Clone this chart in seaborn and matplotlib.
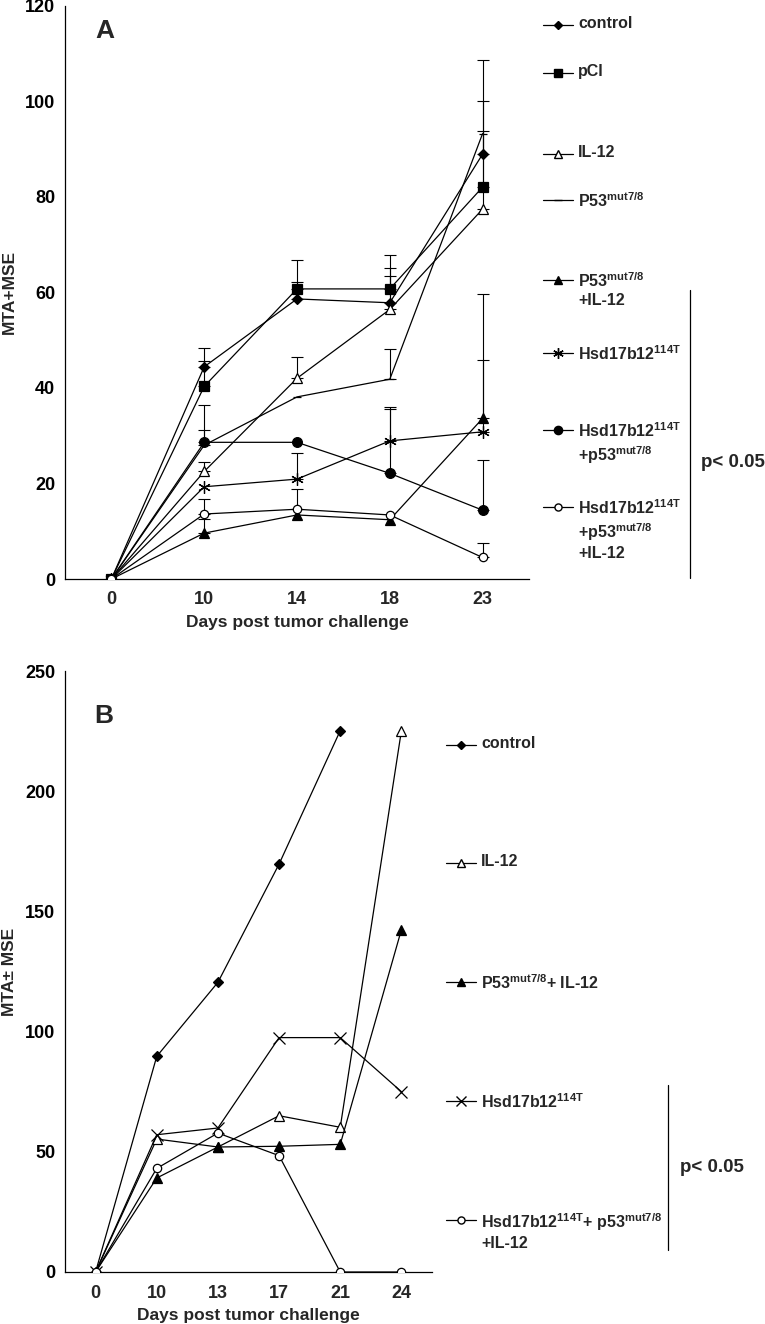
import numpy as np
import matplotlib
matplotlib.use("Agg")
import matplotlib.pyplot as plt
import seaborn as sns
from matplotlib.lines import Line2D

# ---------------------------------------------------------
# data, panel A
# ---------------------------------------------------------
days_a = ["0", "10", "14", "18", "23"]

control_a = [0, 44.4, 58.6, 57.8, 88.9]
control_a_err = [np.nan, 3.9, 3.6, 7.2, 19.8]
pcl_a = [0, 40.3, 60.7, 60.7, 82.0]
pcl_a_err = [np.nan, 5.3, 6.0, 7.1, 18.0]
il12_a = [0, 22.5, 42.0, 56.4, 77.4]
il12_a_err = [np.nan, 2.0, 4.5, 7.0, 16.3]
p53_a = [0, 28.0, 38.1, 41.8, 93.2]
p53_a_err = [np.nan, 3.2, np.nan, 6.3, np.nan]
p53_il12_a = [0, 9.6, 13.4, 12.4, 33.6]
p53_il12_a_err = [np.nan, 2.9, np.nan, np.nan, 26.1]
hsd_a = [0, 19.3, 20.9, 28.9, 30.8]
hsd_a_err = [np.nan, np.nan, 5.5, 7.1, 15.0]
hsd_p53_a = [0, 28.6, 28.6, 22.1, 14.4]
hsd_p53_a_err = [np.nan, 7.8, np.nan, 13.5, 10.6]
hsd_p53_il12_a = [0, 13.6, 14.6, 13.4, 4.5]
hsd_p53_il12_a_err = [np.nan, 3.1, 4.2, np.nan, 3.0]

labels_a = [
    "control",
    "pCl",
    "IL-12",
    "P53$^{mut7/8}$",
    "P53$^{mut7/8}$\n+IL-12",
    "Hsd17b12$^{114T}$",
    "Hsd17b12$^{114T}$\n+p53$^{mut7/8}$",
    "Hsd17b12$^{114T}$\n+p53$^{mut7/8}$\n+IL-12",
]

# ---------------------------------------------------------
# data, panel B
# ---------------------------------------------------------
days_b = ["0", "10", "13", "17", "21", "24"]

control_b = [0, 89.7, 120.5, 169.7, 225.2, np.nan]
il12_b = [0, 55.3, 52.0, 65.0, 60.2, 225.2]
p53_il12_b = [0, 39.1, 52.0, 52.3, 53.1, 142.4]
hsd_b = [0, 57.1, 59.9, 97.5, 97.5, 75.0]
hsd_p53_il12_b = [0, 43.1, 57.8, 48.4, 0, 0]

labels_b = [
    "control",
    "IL-12",
    "P53$^{mut7/8}$+ IL-12",
    "Hsd17b12$^{114T}$",
    "Hsd17b12$^{114T}$+ p53$^{mut7/8}$\n+IL-12",
]

# ---------------------------------------------------------
# style
# ---------------------------------------------------------
sns.set_style("white")
plt.rcParams["font.family"] = ["Liberation Sans", "DejaVu Sans"]
plt.rcParams["font.weight"] = "bold"
plt.rcParams["mathtext.fontset"] = "custom"
plt.rcParams["mathtext.rm"] = "Liberation Sans:bold"
plt.rcParams["mathtext.bf"] = "Liberation Sans:bold"
plt.rcParams["mathtext.default"] = "bf"

W, H = 765, 1324


def fx(px):
    return px / W


def fy(py):
    return 1 - py / H


# marker styles: (marker, size, face)
asterisk = (6, 2, 0)
sty_a = [
    ("D", 5, "black"),
    ("s", 6.5, "black"),
    ("^", 7, "white"),
    ("_", 6, "black"),
    ("^", 7, "black"),
    (asterisk, 9, "black"),
    ("o", 7, "black"),
    ("o", 6, "white"),
]
sty_b = [
    ("D", 5, "black"),
    ("^", 7, "white"),
    ("^", 7, "black"),
    ("x", 8, "black"),
    ("o", 6, "white"),
]

fig = plt.figure(figsize=(W / 100, H / 100), dpi=100)

axA = fig.add_axes([fx(65), fy(579), fx(529) - fx(65), (579 - 5.5) / H])
axB = fig.add_axes([fx(65), fy(1272), fx(432) - fx(65), (1272 - 671) / H])

# ---------------------------------------------------------
# panel A
# ---------------------------------------------------------
series_a = [control_a, pcl_a, il12_a, p53_a, p53_il12_a, hsd_a, hsd_p53_a, hsd_p53_il12_a]
errs_a = [control_a_err, pcl_a_err, il12_a_err, p53_a_err, p53_il12_a_err,
          hsd_a_err, hsd_p53_a_err, hsd_p53_il12_a_err]
xa = np.arange(len(days_a))

for vals, err, (mk, ms, fc) in zip(series_a, errs_a, sty_a):
    err = np.array(err, dtype=float)
    ok = ~np.isnan(err)
    axA.errorbar(xa[ok], np.array(vals)[ok], yerr=[np.zeros(ok.sum()), err[ok]],
                 fmt="none", ecolor="black", elinewidth=0.8, capsize=4.5, capthick=0.8, zorder=1)
    sns.lineplot(x=xa, y=vals, ax=axA, color="black", linewidth=0.9,
                 marker=mk, markersize=ms, markerfacecolor=fc, markeredgecolor="black",
                 markeredgewidth=0.9, zorder=3)

axA.set_xlim(-0.5, 4.5)
axA.set_ylim(0, 120)
axA.set_xticks(xa)
axA.set_xticklabels(days_a)
axA.set_yticks(range(0, 121, 20))
axA.set_ylabel("MTA+MSE", fontsize=12.5, fontweight="bold", labelpad=6)
axA.set_xlabel("Days post tumor challenge", fontsize=12.5, fontweight="bold", labelpad=5)
axA.text(0.065, 0.955, "A", transform=axA.transAxes, fontsize=19, fontweight="bold", va="center")

# ---------------------------------------------------------
# panel B
# ---------------------------------------------------------
series_b = [control_b, il12_b, p53_il12_b, hsd_b, hsd_p53_il12_b]
xb = np.arange(len(days_b))
for vals, (mk, ms, fc) in zip(series_b, sty_b):
    sns.lineplot(x=xb, y=vals, ax=axB, color="black", linewidth=0.9,
                 marker=mk, markersize=ms, markerfacecolor=fc, markeredgecolor="black",
                 markeredgewidth=0.9, zorder=3)

axB.set_xlim(-0.5, 5.5)
axB.set_ylim(0, 250)
axB.set_xticks(xb)
axB.set_xticklabels(days_b)
axB.set_yticks(range(0, 251, 50))
axB.set_ylabel("MTA\u00b1 MSE", fontsize=12.5, fontweight="bold", labelpad=6)
axB.set_xlabel("Days post tumor challenge", fontsize=12.5, fontweight="bold", labelpad=5)
axB.text(0.08, 0.925, "B", transform=axB.transAxes, fontsize=19, fontweight="bold", va="center")

for ax in (axA, axB):
    sns.despine(ax=ax)
    for s in ("left", "bottom"):
        ax.spines[s].set_color("black")
        ax.spines[s].set_linewidth(0.9)
    ax.tick_params(axis="y", direction="out", length=4, width=0.8, colors="black",
                   labelsize=13, pad=3)
    ax.tick_params(axis="x", length=0, labelsize=13, pad=9)
    for t in ax.get_xticklabels() + ax.get_yticklabels():
        t.set_fontweight("bold")

# ---------------------------------------------------------
# hand-made legends
# ---------------------------------------------------------
def legend_entry(x0, py, mk, ms, fc, text, fs=11.5):
    line = Line2D([fx(x0), fx(x0 + 15), fx(x0 + 30)], [fy(py)] * 3,
                  transform=fig.transFigure, color="black", linewidth=0.9,
                  marker=mk, markersize=ms * 0.85, markerfacecolor=fc,
                  markeredgecolor="black", markevery=[1])
    fig.add_artist(line)
    fig.text(fx(x0 + 35), fy(py - 9), text, fontsize=fs, fontweight="bold",
             va="top", ha="left", linespacing=1.25)


pos_a = [25, 73, 154, 200, 280, 353, 430, 507]
for py, (mk, ms, fc), lab in zip(pos_a, sty_a, labels_a):
    legend_entry(543, py, mk, ms, fc, lab)

fig.add_artist(Line2D([fx(690), fx(690)], [fy(290), fy(578)], transform=fig.transFigure,
                      color="black", linewidth=0.9))
fig.text(fx(701), fy(463), "p< 0.05", fontsize=13.5, fontweight="bold", va="center", ha="left")

pos_b = [745, 863, 982, 1101, 1220]
for py, (mk, ms, fc), lab in zip(pos_b, sty_b, labels_b):
    legend_entry(446, py, mk, ms, fc, lab)

fig.add_artist(Line2D([fx(668), fx(668)], [fy(1085), fy(1250)], transform=fig.transFigure,
                      color="black", linewidth=0.9))
fig.text(fx(680), fy(1168), "p< 0.05", fontsize=13.5, fontweight="bold", va="center", ha="left")

fig.savefig("out.png", dpi=100, facecolor="white")
